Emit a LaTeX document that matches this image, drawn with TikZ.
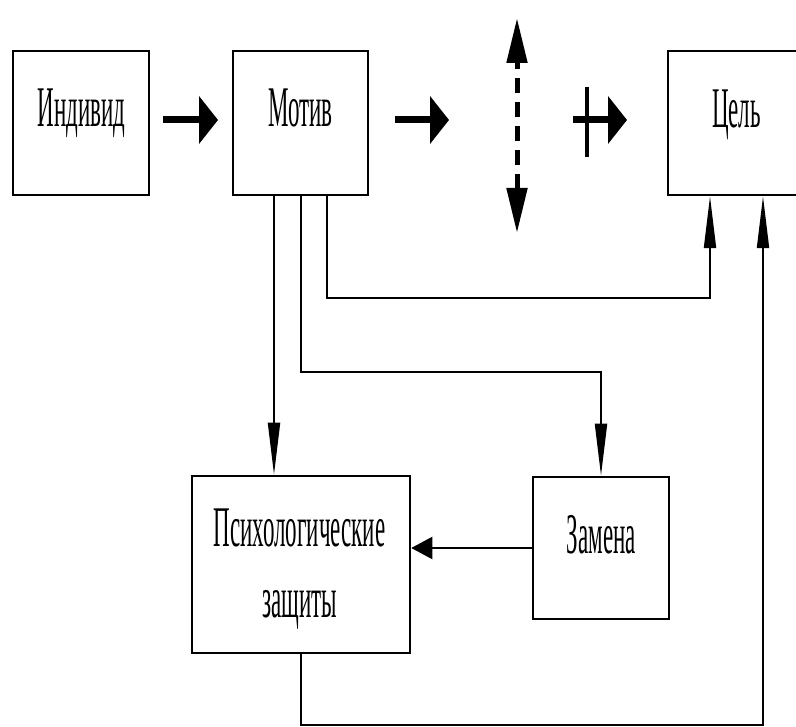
\documentclass[tikz,border=0pt]{standalone}
\usepackage{fontspec}
\usepackage{graphicx}
\newfontfamily\boxfont{Liberation Serif}
\newcommand\vtxt[1]{\scalebox{1}[2.5]{#1}}
\usetikzlibrary{arrows.meta,calc}
\begin{document}
\begin{tikzpicture}[x=1pt,y=-1pt,
  box/.style={draw=black,line width=2.5pt,rectangle,inner sep=0pt},
  txt/.style={font={\boxfont\fontsize{23pt}{26pt}\selectfont},anchor=base,inner sep=0pt},
  conn/.style={draw=black,line width=2pt},
  tarr/.style={conn,-{Triangle[length=52pt,width=12pt]}},
  harr/.style={conn,-{Triangle[length=21pt,width=22pt]}},
  bigarr/.style={draw=black,line width=7pt,-{Triangle[length=19pt,width=47pt]}},
  dasharr/.style={draw=black,line width=5pt,dash pattern=on 15pt off 9pt,
    {Triangle[length=45pt,width=20pt]}-{Triangle[length=45pt,width=20pt]}}
]
\useasboundingbox[fill=white] (0,0) rectangle (796,727);

% boxes
\node[box,minimum width=136pt,minimum height=144pt] (ind) at (81,123) {};
\node[box,minimum width=135pt,minimum height=144pt] (mot) at (300.5,123) {};
\node[box,minimum width=132pt,minimum height=144pt] (cel) at (734,123) {};
\node[box,minimum width=218pt,minimum height=177pt] (psy) at (301,564.5) {};
\node[box,minimum width=136pt,minimum height=142pt] (zam) at (601,548) {};

% texts
\node[txt] (indt) at (81.5,127) {\vtxt{Индивид}};
\node[txt] (mott) at (300.5,127) {\vtxt{Мотив}};
\node[txt] (celt) at (736.5,128) {\vtxt{Цель}};
\node[txt] (psyt1) at (299.5,547) {\vtxt{Психологические}};
\node[txt] (psyt2) at (299.5,617) {\vtxt{защиты}};
\node[txt] (zamt) at (601.5,553) {\vtxt{Замена}};

% free arrows in the top row
\coordinate (a1s) at (163,120);
\coordinate (a1e) at (218,120);
\coordinate (a2s) at (395,120);
\coordinate (a2e) at (449,120);
\coordinate (a3s) at (573,120);
\coordinate (a3e) at (627,120);
\coordinate (bart) at (587,87);
\coordinate (barb) at (587,157);
\coordinate (dtop) at (517,18);
\coordinate (dbot) at (517,233);

\draw[bigarr] (a1s) -- (a1e);
\draw[bigarr] (a2s) -- (a2e);
\draw[bigarr] (a3s) -- (a3e);
\draw[draw=black,line width=4pt] (bart) -- (barb);
\draw[dasharr] (dbot) -- (dtop);

% connector helpers
\coordinate (x1) at (274,0);
\coordinate (x2) at (301,0);
\coordinate (x3) at (327,0);
\coordinate (x4) at (710,0);
\coordinate (x5) at (763,0);
\coordinate (y2) at (0,372);
\coordinate (y3) at (0,298);
\coordinate (y4) at (0,725);

\draw[tarr] (x1 |- mot.south) -- (x1 |- psy.north);
\draw[tarr] (x2 |- mot.south) -- (x2 |- y2) -| (zam.north);
\draw[tarr] (x3 |- mot.south) -- (x3 |- y3) -- (x4 |- y3) -- (x4 |- cel.south);
\draw[tarr] (psy.south) -- (psy.south |- y4) -- (x5 |- y4) -- (x5 |- cel.south);
\draw[harr] (zam.west) -- (zam.west -| psy.east);
\end{tikzpicture}
\end{document}
